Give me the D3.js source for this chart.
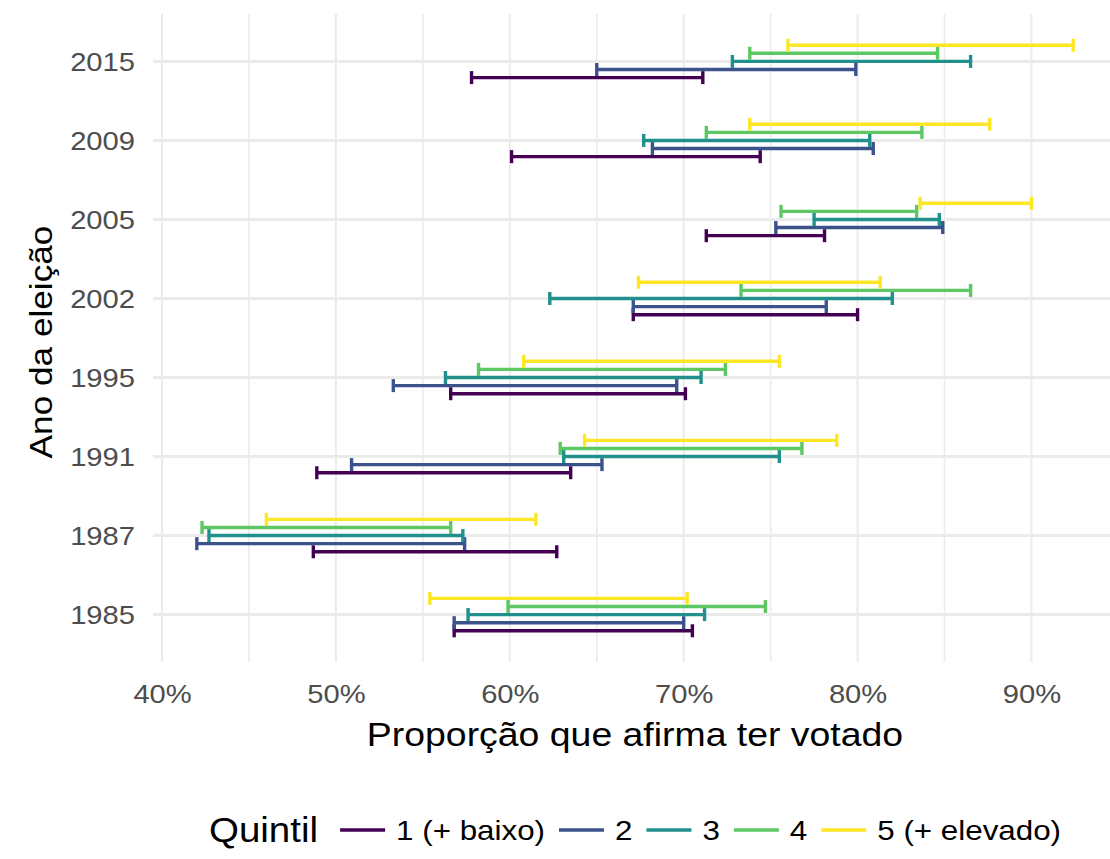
<!DOCTYPE html>
<html>
<head>
<meta charset="utf-8">
<script src="https://cdn.jsdelivr.net/npm/d3@7"></script>
<style>
  body { margin: 0; background: #fff; }
  text { font-family: "Liberation Sans", Arial, sans-serif; }
</style>
</head>
<body>
<div id="chart"></div>
<script>
// election years, bottom to top
const years = ['1985', '1987', '1991', '1995', '2002', '2005', '2009', '2015'];
const quintis = ['1 (+ baixo)', '2', '3', '4', '5 (+ elevado)'];
const cores = ['#440154', '#3B528B', '#21908C', '#5DC863', '#FDE725'];

// lower / upper bound (%) per quintile, same order as years
const q1Min = [56.8, 48.7, 48.9, 56.6, 67.1, 71.3, 60.1, 57.8];
const q1Max = [70.5, 62.7, 63.5, 70.1, 80.0, 78.1, 74.4, 71.1];
const q2Min = [56.8, 42.0, 50.9, 53.3, 67.1, 75.3, 68.2, 65.0];
const q2Max = [70.0, 57.4, 65.3, 69.6, 78.2, 84.9, 80.9, 79.9];
const q3Min = [57.6, 42.7, 63.1, 56.3, 62.3, 77.5, 67.7, 72.8];
const q3Max = [71.2, 57.3, 75.5, 71.0, 82.0, 84.7, 80.7, 86.5];
const q4Min = [59.9, 42.3, 62.9, 58.2, 73.3, 75.6, 71.3, 73.8];
const q4Max = [74.7, 56.6, 76.8, 72.4, 86.5, 83.4, 83.7, 84.6];
const q5Min = [55.4, 46.0, 64.3, 60.8, 67.4, 83.6, 73.8, 76.0];
const q5Max = [70.2, 61.5, 78.8, 75.5, 81.3, 90.0, 87.6, 92.4];

const xTicks = [40, 50, 60, 70, 80, 90];
const xMinorTicks = [45, 55, 65, 75, 85];

const mins = [q1Min, q2Min, q3Min, q4Min, q5Min];
const maxs = [q1Max, q2Max, q3Max, q4Max, q5Max];

const rows = [];
quintis.forEach((q, qi) => {
  years.forEach((ano, i) => {
    rows.push({ ano: ano, quintil: q, lo: mins[qi][i], hi: maxs[qi][i], cor: cores[qi] });
  });
});

const W = 1110, H = 859;
const panel = { left: 153, right: 1117, top: 14, bottom: 662 };
const SX = 1.1; // text is drawn a little wider than the stock font

const svg = d3.select('#chart').append('svg')
  .attr('width', W)
  .attr('height', H);

// x scale with ggplot-like 5% expansion
const lo = d3.min(rows, d => d.lo), hi = d3.max(rows, d => d.hi);
const pad = (hi - lo) * 0.05;
const x = d3.scaleLinear().domain([lo - pad, hi + pad]).range([panel.left, panel.right]);

const y = d3.scalePoint().domain(years.slice().reverse())
  .range([panel.top, panel.bottom]).padding(0.6);

const dodge = d3.scalePoint().domain(quintis).range([16.2, -16.2]);

// grid
const grid = svg.append('g');
grid.selectAll('.minor').data(xMinorTicks).enter().append('line')
  .attr('x1', d => x(d)).attr('x2', d => x(d))
  .attr('y1', panel.top).attr('y2', panel.bottom)
  .attr('stroke', '#EBEBEB').attr('stroke-width', 1.6);
grid.selectAll('.major').data(xTicks).enter().append('line')
  .attr('x1', d => x(d)).attr('x2', d => x(d))
  .attr('y1', panel.top).attr('y2', panel.bottom)
  .attr('stroke', '#EBEBEB').attr('stroke-width', 2);
grid.selectAll('.hy').data(years).enter().append('line')
  .attr('x1', panel.left).attr('x2', panel.right)
  .attr('y1', d => y(d)).attr('y2', d => y(d))
  .attr('stroke', '#EBEBEB').attr('stroke-width', 3);

// axes
const xAxis = svg.append('g')
  .attr('transform', 'translate(0,' + panel.bottom + ')')
  .call(d3.axisBottom(x).tickValues(xTicks).tickFormat(d => d + '%').tickSize(0));
xAxis.select('.domain').remove();
xAxis.selectAll('text')
  .attr('font-size', 26.5).attr('fill', '#4D4D4D')
  .attr('font-family', '"Liberation Sans", Arial, sans-serif')
  .attr('x', 0)
  .attr('y', 0)
  .attr('dy', null)
  .attr('transform', 'translate(0,41) scale(' + SX + ',1)');

const yAxis = svg.append('g')
  .attr('transform', 'translate(' + panel.left + ',0)')
  .call(d3.axisLeft(y).tickSize(0));
yAxis.select('.domain').remove();
yAxis.selectAll('text')
  .attr('font-size', 26.5).attr('fill', '#4D4D4D')
  .attr('font-family', '"Liberation Sans", Arial, sans-serif')
  .attr('x', 0)
  .attr('dy', '0.35em')
  .attr('transform', 'translate(-18,0) scale(' + SX + ',1)');

// error bars
const cap = 6.5;
const bars = svg.append('g').selectAll('.bar')
  .data(rows).enter().append('g')
  .attr('class', 'bar')
  .attr('stroke', d => d.cor)
  .attr('stroke-width', 3.4)
  .attr('transform', d => 'translate(0,' + (y(d.ano) + dodge(d.quintil)) + ')');
bars.append('line').attr('x1', d => x(d.lo)).attr('x2', d => x(d.hi));
bars.append('line').attr('x1', d => x(d.lo)).attr('x2', d => x(d.lo)).attr('y1', -cap).attr('y2', cap);
bars.append('line').attr('x1', d => x(d.hi)).attr('x2', d => x(d.hi)).attr('y1', -cap).attr('y2', cap);

// titles
const cx = (panel.left + panel.right) / 2;
svg.append('text')
  .attr('transform', 'translate(' + cx + ',746) scale(' + SX + ',1)')
  .attr('text-anchor', 'middle')
  .attr('font-size', 34)
  .text('Proporção que afirma ter votado');

svg.append('text')
  .attr('transform', 'translate(52,' + ((panel.top + panel.bottom) / 2 + 4) + ') rotate(-90) scale(' + SX + ',1)')
  .attr('text-anchor', 'middle')
  .attr('font-size', 32)
  .text('Ano da eleição');

// legend
const legY = 830, keyW = 45;
const leg = svg.append('g');
const title = leg.append('text')
  .attr('font-size', 35)
  .attr('dy', '0.35em')
  .text('Quintil');
let pos = title.node().getComputedTextLength() * SX + 22;
title.attr('transform', 'translate(0,' + legY + ') scale(' + SX + ',1)');
quintis.forEach((q, qi) => {
  leg.append('line')
    .attr('x1', pos).attr('x2', pos + keyW)
    .attr('y1', legY).attr('y2', legY)
    .attr('stroke', cores[qi]).attr('stroke-width', 3.4);
  pos += keyW + 11;
  const t = leg.append('text')
    .attr('font-size', 28.5)
    .attr('dy', '0.35em')
    .attr('transform', 'translate(' + pos + ',' + legY + ') scale(' + SX + ',1)')
    .text(q);
  pos += t.node().getComputedTextLength() * SX + 14;
});
pos -= 14;
leg.attr('transform', 'translate(' + (cx - pos / 2) + ',0)');
</script>
</body>
</html>
